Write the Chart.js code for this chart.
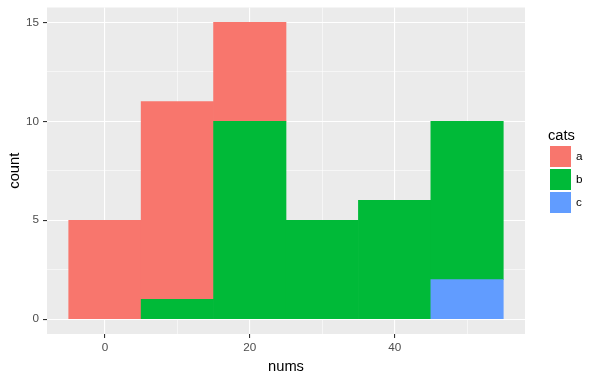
<!DOCTYPE html>
<html>
<head>
<meta charset="utf-8">
<script src="https://cdn.jsdelivr.net/npm/chart.js@4.4.1/dist/chart.umd.min.js"></script>
<style>
  html, body { margin: 0; padding: 0; background: #fff; }
  #wrap { width: 597px; height: 379px; position: relative; }
</style>
</head>
<body>
<div id="wrap"><canvas id="hist"></canvas></div>
<script>
// histogram bins (centres, width 10) and stacked counts per category
const binCentres = [0, 10, 20, 30, 40, 50];
const countsA = [5, 10, 5, 0, 0, 0];
const countsB = [0, 1, 10, 5, 6, 8];
const countsC = [0, 0, 0, 0, 0, 2];
const categories = ['a', 'b', 'c'];

const xMajor = [0, 20, 40];
const xMinor = [10, 30, 50];
const yMajor = [0, 5, 10, 15];
const yMinor = [2.5, 7.5, 12.5];

const colours = { a: '#F8766D', b: '#00BA38', c: '#619CFF' };
const FONT = '"Liberation Sans", Arial, sans-serif';

function pts(vals) {
  return binCentres.map((x, i) => ({ x: x, y: vals[i] }));
}

// empty bins get no fill so they don't leave a hairline on the baseline
function fill(col) {
  return (ctx) => (ctx.raw && ctx.raw.y === 0 ? 'rgba(0,0,0,0)' : col);
}

function setTicks(major, minor) {
  return function (scale) {
    scale.ticks = major.concat(minor).sort((p, q) => p - q).map((v) => ({ value: v }));
  };
}

const panelBg = {
  id: 'panelBg',
  beforeDraw(chart) {
    const a = chart.chartArea;
    const ctx = chart.ctx;
    ctx.save();
    ctx.fillStyle = '#EBEBEB';
    ctx.fillRect(a.left, a.top, a.right - a.left, a.bottom - a.top);
    ctx.restore();
  }
};

const legendBox = {
  id: 'legendBox',
  afterDraw(chart) {
    const ctx = chart.ctx;
    ctx.save();
    ctx.fillStyle = '#000';
    ctx.font = '14.7px ' + FONT;
    ctx.textBaseline = 'middle';
    ctx.textAlign = 'left';
    ctx.fillText('cats', 548, 136);
    categories.forEach((c, i) => {
      const y = 146 + i * 23;
      ctx.fillStyle = colours[c];
      ctx.fillRect(550, y, 21, 21);
      ctx.fillStyle = '#000';
      ctx.font = '11.7px ' + FONT;
      ctx.fillText(c, 576, y + 11);
    });
    ctx.restore();
  }
};

const isIn = (arr, v) => arr.some((m) => Math.abs(m - v) < 1e-6);

new Chart(document.getElementById('hist').getContext('2d'), {
  type: 'bar',
  data: {
    datasets: [
      { label: 'c', data: pts(countsC), backgroundColor: fill(colours.c) },
      { label: 'b', data: pts(countsB), backgroundColor: fill(colours.b) },
      { label: 'a', data: pts(countsA), backgroundColor: fill(colours.a) }
    ]
  },
  options: {
    responsive: true,
    maintainAspectRatio: false,
    animation: false,
    events: [],
    datasets: { bar: { barPercentage: 1, categoryPercentage: 1, borderWidth: 0 } },
    layout: { padding: { top: 7.5, right: 72, left: 0, bottom: 0 } },
    plugins: { legend: { display: false }, tooltip: { enabled: false } },
    scales: {
      x: {
        type: 'linear',
        stacked: true,
        offset: false,
        min: -8,
        max: 58,
        afterBuildTicks: setTicks(xMajor, xMinor),
        afterFit: (s) => { s.height = 45; s.paddingLeft = 0; s.paddingRight = 0; },
        border: { display: false },
        grid: {
          offset: false,
          color: (c) => (isIn(xMajor, c.tick.value) ? '#FFFFFF' : 'rgba(255,255,255,0.55)'),
          lineWidth: (c) => (isIn(xMajor, c.tick.value) ? 1.1 : 1),
          tickColor: (c) => (isIn(xMajor, c.tick.value) ? '#333333' : 'rgba(0,0,0,0)'),
          tickLength: 4
        },
        ticks: {
          autoSkip: false,
          maxRotation: 0,
          padding: 3,
          color: '#4D4D4D',
          font: { family: FONT, size: 11.7 },
          callback: (v) => (isIn(xMajor, v) ? String(v) : '')
        },
        title: {
          display: true,
          text: 'nums',
          color: '#000',
          font: { family: FONT, size: 14.7 },
          padding: { top: 0, bottom: 3 }
        }
      },
      y: {
        stacked: true,
        min: -0.75,
        max: 15.75,
        afterBuildTicks: setTicks(yMajor, yMinor),
        afterFit: (s) => { s.width = 47; s.paddingTop = 0; s.paddingBottom = 0; },
        border: { display: false },
        grid: {
          color: (c) => (isIn(yMajor, c.tick.value) ? '#FFFFFF' : 'rgba(255,255,255,0.55)'),
          lineWidth: (c) => (isIn(yMajor, c.tick.value) ? 1.1 : 1),
          tickColor: (c) => (isIn(yMajor, c.tick.value) ? '#333333' : 'rgba(0,0,0,0)'),
          tickLength: 4
        },
        ticks: {
          autoSkip: false,
          padding: 4,
          color: '#4D4D4D',
          font: { family: FONT, size: 11.7 },
          callback: (v) => (isIn(yMajor, v) ? String(v) : '')
        },
        title: {
          display: true,
          text: 'count',
          color: '#000',
          font: { family: FONT, size: 14.7 },
          padding: { top: 6, bottom: 0 }
        }
      }
    }
  },
  plugins: [panelBg, legendBox]
});
</script>
</body>
</html>
